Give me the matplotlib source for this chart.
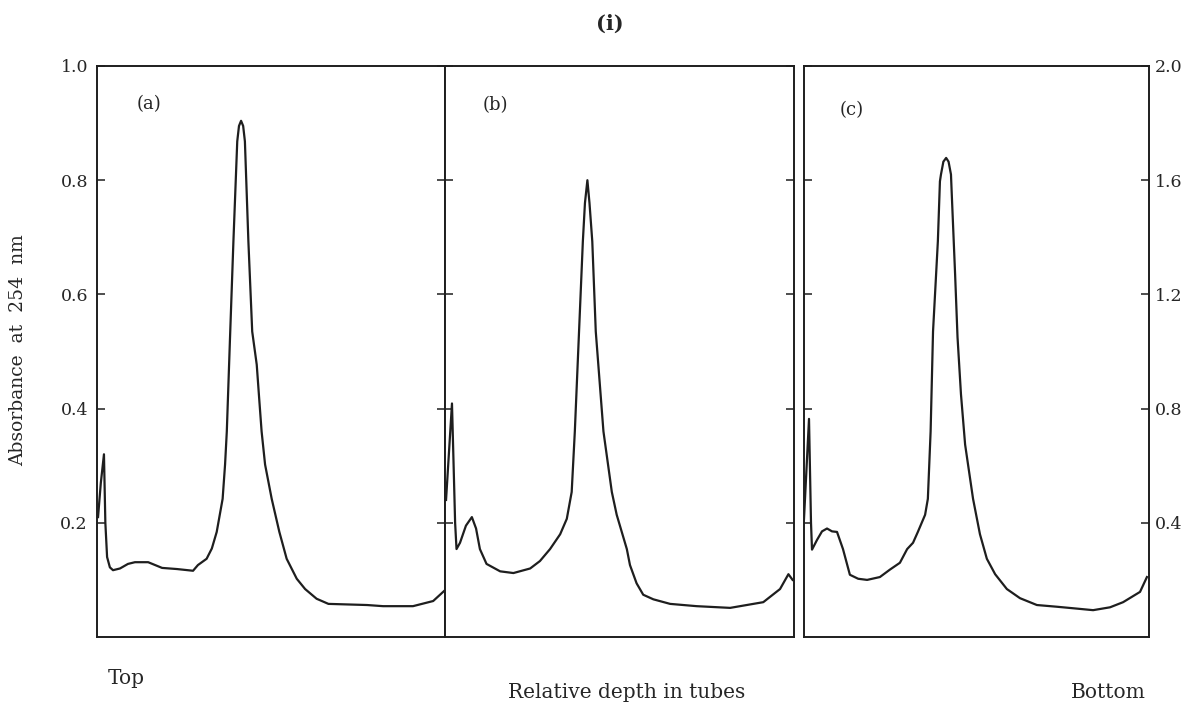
#!/usr/bin/env python3
"""Absorbance profiles (254 nm) along gradient tubes, panels (a)-(c)."""

import matplotlib

matplotlib.use("Agg")
import matplotlib.pyplot as plt

plt.rcParams["font.family"] = ["DejaVu Serif"]

INK = "#1e1e1e"
TEXT = "#262626"

# relative depth (0 = top, 1 = bottom) and absorbance
depth_a = [0.003, 0.011, 0.020, 0.024, 0.029, 0.037, 0.046, 0.066, 0.089, 0.109,
           0.147, 0.167, 0.187, 0.230, 0.276, 0.290, 0.315, 0.330, 0.344, 0.361,
           0.368, 0.373, 0.382, 0.392, 0.403, 0.408, 0.414, 0.420, 0.425, 0.435,
           0.446, 0.459, 0.466, 0.473, 0.483, 0.502, 0.524, 0.545, 0.574, 0.598,
           0.631, 0.665, 0.776, 0.822, 0.908, 0.966, 1.000]
abs_a = [0.21, 0.27, 0.32, 0.20, 0.14, 0.122, 0.117, 0.12, 0.128, 0.131,
         0.131, 0.126, 0.121, 0.119, 0.116, 0.126, 0.137, 0.155, 0.184, 0.242,
         0.302, 0.36, 0.52, 0.693, 0.868, 0.895, 0.904, 0.895, 0.868, 0.693,
         0.535, 0.477, 0.418, 0.36, 0.302, 0.242, 0.184, 0.137, 0.102, 0.084,
         0.067, 0.058, 0.056, 0.054, 0.054, 0.063, 0.082]

depth_b = [0.003, 0.020, 0.029, 0.033, 0.043, 0.060, 0.077, 0.089, 0.100, 0.119,
           0.158, 0.196, 0.244, 0.272, 0.301, 0.330, 0.349, 0.363, 0.372, 0.382,
           0.395, 0.401, 0.408, 0.414, 0.422, 0.432, 0.454, 0.478, 0.492, 0.521,
           0.530, 0.549, 0.568, 0.597, 0.645, 0.721, 0.817, 0.912, 0.960, 0.984,
           0.996]
abs_b = [0.24, 0.409, 0.20, 0.154, 0.165, 0.195, 0.21, 0.19, 0.154, 0.128,
         0.115, 0.112, 0.12, 0.133, 0.154, 0.18, 0.207, 0.254, 0.36, 0.505,
         0.693, 0.76, 0.80, 0.76, 0.693, 0.535, 0.36, 0.254, 0.214, 0.154,
         0.126, 0.094, 0.074, 0.066, 0.058, 0.054, 0.051, 0.061, 0.084, 0.11,
         0.10]

# panel (c) is read against the right-hand scale (0 - 2.0)
depth_c = [0.000, 0.0145, 0.0203, 0.0232, 0.0377, 0.0522, 0.0667, 0.0812, 0.0957, 0.113,
           0.133, 0.157, 0.183, 0.220, 0.249, 0.278, 0.299, 0.316, 0.330, 0.351,
           0.359, 0.367, 0.374, 0.382, 0.388, 0.394, 0.397, 0.404, 0.412, 0.419,
           0.426, 0.428, 0.438, 0.445, 0.455, 0.467, 0.490, 0.510, 0.530, 0.554,
           0.588, 0.626, 0.675, 0.733, 0.786, 0.838, 0.887, 0.925, 0.974, 0.994]
abs_c = [0.414, 0.764, 0.40, 0.306, 0.34, 0.37, 0.38, 0.37, 0.368, 0.308,
         0.218, 0.204, 0.20, 0.21, 0.236, 0.26, 0.308, 0.33, 0.368, 0.428,
         0.484, 0.72, 1.07, 1.25, 1.386, 1.596, 1.62, 1.665, 1.678, 1.665,
         1.62, 1.56, 1.27, 1.05, 0.85, 0.674, 0.484, 0.36, 0.274, 0.22,
         0.168, 0.136, 0.112, 0.106, 0.10, 0.094, 0.104, 0.122, 0.158, 0.21]

left_ticks = [0.2, 0.4, 0.6, 0.8, 1.0]
left_labels = ["0.2", "0.4", "0.6", "0.8", "1.0"]
right_ticks = [0.4, 0.8, 1.2, 1.6, 2.0]
right_labels = ["0.4", "0.8", "1.2", "1.6", "2.0"]
panel_names = ["(a)", "(b)", "(c)"]

W, H = 1201, 707


def fx(x):
    return x / W


def fy(y):
    return 1 - y / H


fig = plt.figure(figsize=(W / 100, H / 100), dpi=100)

top, bottom = 66, 637
boxes = [(97, 445), (445, 794), (804, 1149)]
label_pos = [(137, 104), (483, 105), (840, 110)]
series = [(depth_a, abs_a), (depth_b, abs_b), (depth_c, abs_c)]

for i, ((x0, x1), (dx, dy)) in enumerate(zip(boxes, series)):
    ax = fig.add_axes([fx(x0), fy(bottom), fx(x1 - x0), (bottom - top) / H])
    ax.plot(dx, dy, color=INK, lw=1.6, solid_joinstyle="round")
    ax.set_xlim(0, 1)
    ax.set_xticks([])
    if i < 2:
        ax.set_ylim(0, 1.0)
        ax.set_yticks(left_ticks)
        ax.set_yticklabels(left_labels)
    else:
        ax.set_ylim(0, 2.0)
        ax.set_yticks(right_ticks)
        ax.set_yticklabels(right_labels)
    ax.tick_params(axis="y", direction="in", left=True, right=True,
                   labelleft=(i == 0), labelright=(i == 2),
                   length=6, width=1.1, color=INK, labelsize=12.5,
                   labelcolor=TEXT, pad=6.5 if i == 0 else 4)
    for sp in ax.spines.values():
        sp.set_linewidth(1.4)
        sp.set_color(INK)
    lx, ly = label_pos[i]
    fig.text(fx(lx), fy(ly), panel_names[i], fontsize=13, color=TEXT,
             ha="left", va="center")

fig.text(fx(610), fy(24), "(i)", fontsize=15, fontweight="bold",
         color=TEXT, ha="center", va="center")
fig.text(fx(18), fy(350), "Absorbance  at  254  nm", rotation=90,
         fontsize=13.5, color=TEXT, ha="center", va="center")
fig.text(fx(108), fy(678), "Top", fontsize=14.5, color=TEXT,
         ha="left", va="center")
fig.text(fx(627), fy(692), "Relative depth in tubes", fontsize=14.5,
         color=TEXT, ha="center", va="center")
fig.text(fx(1146), fy(692), "Bottom", fontsize=14.5, color=TEXT,
         ha="right", va="center")

fig.savefig("out.png", dpi=100, facecolor="white")
